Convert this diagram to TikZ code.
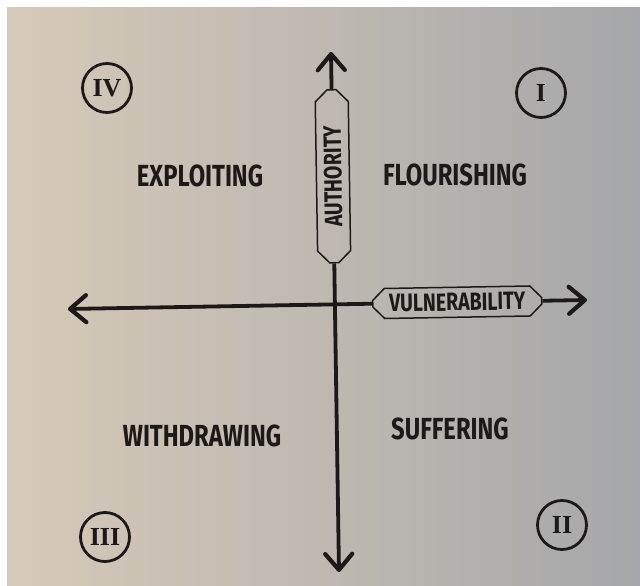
\documentclass[tikz,border=0pt]{standalone}
\usepackage{fontspec}
\setsansfont{Fira Sans}[FakeStretch=0.78]
\newfontfamily\numfont{Liberation Serif}
\usetikzlibrary{arrows.meta}
\usetikzlibrary{shapes.misc}
\usetikzlibrary{calc}
\usepackage{xcolor}

\definecolor{paperL}{RGB}{214,202,184}
\definecolor{paperR}{RGB}{166,167,170}
\definecolor{ink}{RGB}{30,25,25}

\tikzset{
  axisline/.style={ink, line width=3.8pt, -{Straight Barb[length=16pt,width=27pt,line width=4.2pt,round]}},
  axislabel/.style={chamfered rectangle, chamfered rectangle xsep=10pt, draw=ink, line width=1.5pt,
    text=ink, font=\sffamily\bfseries\fontsize{25}{25}\selectfont, inner sep=0pt},
  quadrant/.style={text=ink, font=\sffamily\bfseries\fontsize{30.5}{30.5}\selectfont},
  numeral/.style={circle, draw=ink, line width=2.8pt, minimum size=49pt, inner sep=0pt,
    text=ink, font=\numfont\bfseries\fontsize{26}{26}\selectfont}
}

\begin{document}
\begin{tikzpicture}[x=1pt,y=1pt]

        \useasboundingbox (0,0) rectangle (640,586);
        \fill[white] (0,0) rectangle (640,586);
        \fill[left color=paperL, right color=paperR] (7,0) rectangle (640,578);

        % Axis ends
        \coordinate (top) at (331,534);
        \coordinate (bottom) at (339,14);
        \coordinate (left) at (68,277);
        \coordinate (right) at (587,286);

        % Labels on the axes
        \node[axislabel, rotate=90.9, minimum width=173pt, minimum height=33pt]
          (auth) at ($(top)!0.239!(bottom)$) {AUTHORITY};
        \node[axislabel, rotate=0.99, minimum width=169pt, minimum height=30pt]
          (vuln) at ($(left)!0.75!(right)$) {VULNERABILITY};

        % Axis
        \draw[axisline] (auth.east) -- (top);
        \draw[axisline] (auth.west) -- (bottom);
        \draw[axisline] (vuln.east) -- (right);
        \draw[axisline] (vuln.west) -- (left);

        % Quadrants
        \node[quadrant] (exploiting) at (200,410) {EXPLOITING};
        \node[quadrant] (flourishing) at (455,411) {FLOURISHING};
        \node[quadrant] (withdrawing) at (202,150) {WITHDRAWING};
        \node[quadrant] (suffering) at (450,157) {SUFFERING};

        % Circled numbers
        \foreach \num/\x/\y in {I/541/493, II/562/61, III/105/49, IV/107/498}
        {
          \node[numeral] (n\num) at (\x,\y) {\num};
        }
    \end{tikzpicture}
\end{document}
